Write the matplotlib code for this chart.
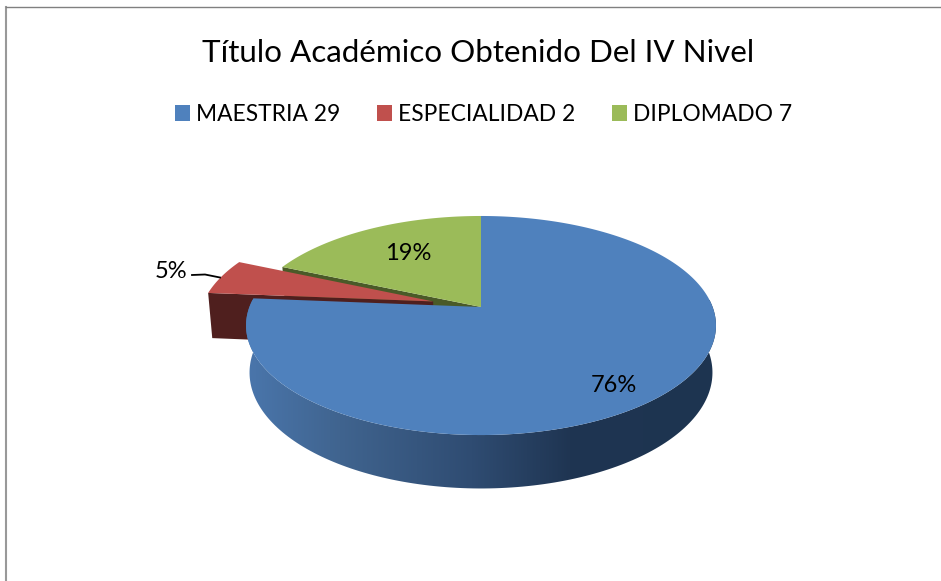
import numpy as np
import matplotlib
matplotlib.use("Agg")
import matplotlib.pyplot as plt
from matplotlib.patches import Polygon, Patch
from matplotlib.colors import LinearSegmentedColormap

categories = ["MAESTRIA 29", "ESPECIALIDAD 2", "DIPLOMADO 7"]
values = [29, 2, 7]
percent_labels = ["76%", "5%", "19%"]
explode = [0.0, 0.215, 0.0]
top_colors = ["#4F81BD", "#C0504D", "#9BBB59"]
side_colors = ["#2F4B70", "#4F1F1E", "#4A5A28"]
title = "Título Académico Obtenido Del IV Nivel"

W, H = 941, 581
CX, CY = 481.0, 307.0
A, B, P = 231.6, 106.4, 0.169
S, D = 0.985, 46.0
plt.rcParams["font.family"] = ["Lato", "DejaVu Sans"]

fig = plt.figure(figsize=(W / 100, H / 100), dpi=100)
ax = fig.add_axes([0, 0, 1, 1])
ax.set_xlim(0, W)
ax.set_ylim(H, 0)
ax.axis("off")


def project(u, v, bottom=False):
    u, v = np.asarray(u, float), np.asarray(v, float)
    w = 1 + P * v
    if bottom:
        return CX + S * A * u / w, CY - (S * B * v - D) / w
    return CX + A * u / w, CY - B * v / w


def wedge_unit(start, end, off):
    th = np.radians(np.linspace(start, end, 240))
    mid = np.radians((start + end) / 2)
    ox, oy = off * np.sin(mid), off * np.cos(mid)
    return np.sin(th) + ox, np.cos(th) + oy, ox, oy


frac = np.array(values, float) / sum(values)
edges = np.concatenate([[0], np.cumsum(frac)]) * 360

# green slice: cut wall, then top
u, v, ox, oy = wedge_unit(edges[2], edges[3], explode[2])
x0, y0 = project(u[0], v[0]); xa, ya = project(ox, oy)
x1, y1 = project(u[0], v[0], True); xb, yb = project(ox, oy, True)
ax.add_patch(Polygon([(x0, y0), (xa, ya), (xb, yb), (x1, y1)], fc=side_colors[2], ec="none", zorder=2))
x, y = project(u, v)
ax.add_patch(Polygon(np.r_[[(xa, ya)], np.c_[x, y]], fc=top_colors[2], ec="none", zorder=3))

# red slice: cut wall, outer wall, top
u, v, ox, oy = wedge_unit(edges[1], edges[2], explode[1])
x0, y0 = project(u[0], v[0]); xa, ya = project(ox, oy)
x1, y1 = project(u[0], v[0], True); xb, yb = project(ox, oy, True)
ax.add_patch(Polygon([(x0, y0), (xa, ya), (xb, yb), (x1, y1)], fc=side_colors[1], ec="none", zorder=4))
x, y = project(u, v)
ax.add_patch(Polygon(np.r_[[(xa, ya)], np.c_[x, y]], fc=top_colors[1], ec="none", zorder=5))

# blue slice: outer wall with gradient, then top
u, v, ox, oy = wedge_unit(edges[0], edges[1], explode[0])
x, y = project(u, v)
xl, yl = project(u, v, True)
wall = Polygon(np.r_[np.c_[x, y], np.c_[xl, yl][::-1]], fc="none", ec="none", zorder=6)
ax.add_patch(wall)
cmap = LinearSegmentedColormap.from_list(
    "wall", [(0, "#4A76AC"), (0.2, "#40648F"), (0.48, "#2F4C72"), (0.69, "#1F3552"), (1, "#1D3450")])
im = ax.imshow(np.linspace(0, 1, 256)[None, :], extent=(245, 717, 500, 300), cmap=cmap, aspect="auto", zorder=6)
ax.set_xlim(0, W); ax.set_ylim(H, 0)
im.set_clip_path(wall)
xa, ya = project(ox, oy)
ax.add_patch(Polygon(np.r_[[(xa, ya)], np.c_[x, y]], fc=top_colors[0], ec="none", zorder=7))

# frame (left and top edges only are visible in the crop)
ax.plot([6, 6], [7, 581], color="#999999", lw=1.5, zorder=1)
ax.plot([6, 941], [7, 7], color="#808080", lw=1.0, zorder=1)

# text
ax.text(478.5, 53, title, ha="center", va="center", fontsize=22.6, color="#000000", zorder=10)
label_pos = [(613.5, 386), (171, 271), (408, 253)]
for (lx, ly), t in zip(label_pos, percent_labels):
    ax.text(lx, ly, t, ha="center", va="center", fontsize=17, color="#000000", zorder=10)
lead_x = [192, 205, 220]
lead_y = [275, 274.5, 277.5]
ax.plot(lead_x, lead_y, color="#000000", lw=1.3, zorder=10)

handles = [Patch(fc=c, ec="none") for c in top_colors]
ax.legend(handles, categories, ncol=3, loc="center", bbox_to_anchor=(483.5, 114.5), bbox_transform=ax.transData,
          frameon=False, fontsize=16.4, handlelength=0.66, handleheight=0.66, handletextpad=0.27,
          columnspacing=1.6, borderpad=0, borderaxespad=0)

fig.savefig("out.png", dpi=100, facecolor="white")
